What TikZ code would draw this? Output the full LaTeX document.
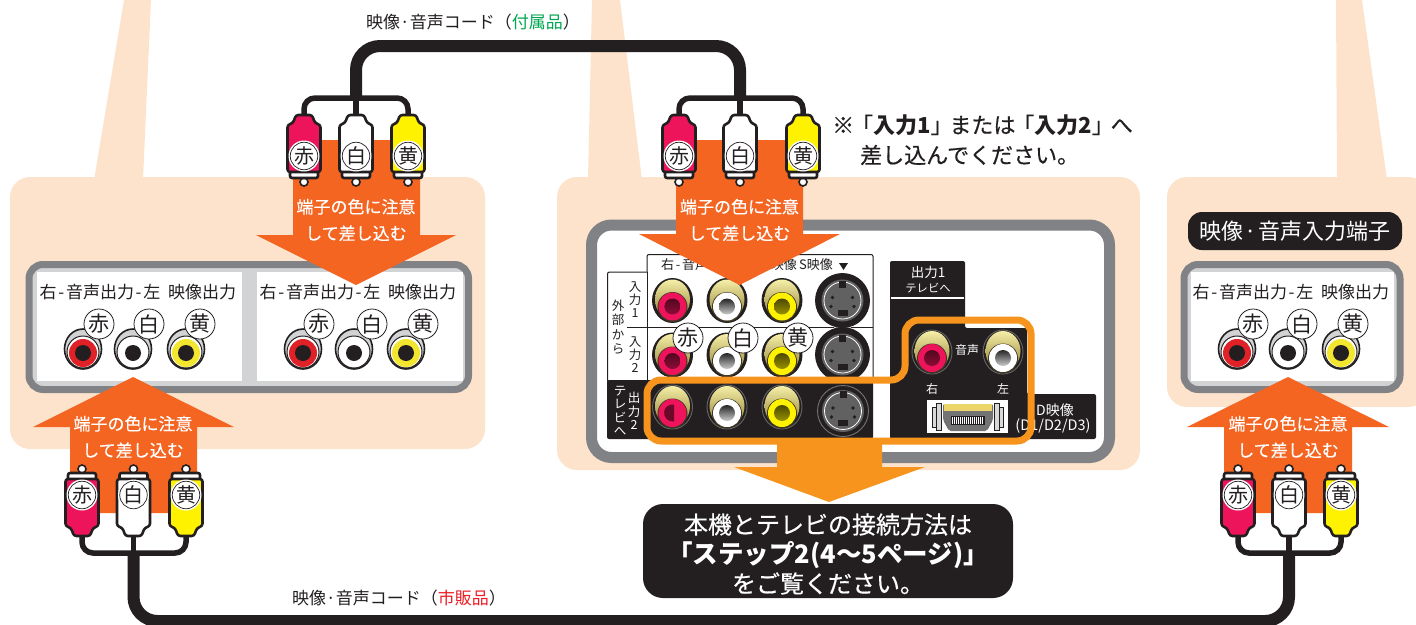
\documentclass[tikz,border=0pt]{standalone}
\usepackage{fontspec}
\setmainfont{Noto Sans CJK JP}
\newfontfamily\jpm[FakeBold=0.45]{Noto Sans CJK JP}
\definecolor{peach}{HTML}{FDE3CB}
\definecolor{ink}{HTML}{231F20}
\definecolor{frameg}{HTML}{808285}
\definecolor{paneg}{HTML}{D1D3D4}
\definecolor{arrowo}{HTML}{F46522}
\definecolor{framo}{HTML}{F7941D}
\definecolor{plugr}{HTML}{ED145B}
\definecolor{plugy}{HTML}{FFF200}
\definecolor{jackr}{HTML}{E02127}
\definecolor{jacky}{HTML}{F2E62E}
\definecolor{greenx}{HTML}{00A651}
\definecolor{redx}{HTML}{ED1C24}
\definecolor{goldt}{HTML}{F6EFA8}
\definecolor{goldb}{HTML}{8C7A2C}
\newcommand{\fs}[2]{\fontsize{#1}{#2}\selectfont}
\newcommand{\bb}[1]{{\normalfont\bfseries #1}}
\newcommand{\hy}{\kern1.7pt-\kern1.7pt}
\newcommand{\tb}{\kern-.14em}
\tikzset{
  cable/.style={draw=ink,line width=12pt,rounded corners=24pt},
  stem/.style={draw=ink,line width=5.5pt,rounded corners=11pt},
  txt/.style={inner sep=0pt,text=ink,align=center},
  wtxt/.style={inner sep=0pt,text=white,align=center},
  tag/.style={circle,draw=ink,line width=.8pt,fill=white,minimum size=30pt,inner sep=0pt,text=ink,font=\fs{21}{21}},
  plugtag/.style={circle,draw=ink,line width=.7pt,fill=white,minimum size=27.5pt,inner sep=0pt,text=ink,font=\fs{20}{20},outer sep=0pt},
  gframe/.style={draw=frameg,line width=7pt,fill=paneg,rounded corners=14pt},
  peachbox/.style={fill=peach,rounded corners=20pt},
  arr/.style={fill=arrowo},
  arrtxt/.style={wtxt,font=\jpm\fs{17}{26.5}},
  paneltxt/.style={txt,font=\fs{17}{18}},
}
% name x y colour label ysign
\newcommand{\plug}[6]{%
\begin{scope}[shift={(#2,#3)},yscale=#6]
  \draw[ink,line width=1.6pt,fill=white] (0,26) circle[radius=4];
  \draw[ink,line width=2.6pt,fill=white,line join=round,rounded corners=2pt] (-14,14) -- (14,14) -- (14,22) -- (-14,22) -- cycle;
  \draw[ink,line width=2.6pt,fill=#4,line join=round,rounded corners=2.5pt]
    (-8,-41) -- (8,-41) -- (11,-33) -- (16.5,-31) -- (16.5,16) -- (-16.5,16) -- (-16.5,-31) -- (-11,-33) -- cycle;
  \coordinate (#1-tip) at (0,-41);
  \fill[white] (0,0) circle[radius=15.5];
\end{scope}
\node[plugtag] (#1) at (#2,#3) {#5};}
% x y colour
\newcommand{\paneljack}[3]{%
\begin{scope}[shift={(#1,#2)}]
  \draw[ink,line width=1.6pt,fill=paneg] (0,0) ellipse[x radius=18.5,y radius=20];
  \draw[ink,line width=1pt,fill=white] (0,3) circle[radius=16];
  \fill[#3] (0,4) circle[radius=14];
  \fill[ink] (0,4) circle[radius=8];
\end{scope}}
% x y ring colour holetop holebottom
\newcommand{\goldjack}[6]{%
\begin{scope}[shift={(#1,#2)}]
  \draw[#3,fill=ink,line width=.9pt] (0,0) ellipse[x radius=20,y radius=22];
  \shade[top color=goldt,bottom color=goldb] (0,-1) ellipse[x radius=17.5,y radius=20];
  \fill[ink!75!goldb] (0,6.5) circle[radius=15];
  \fill[#4] (0,6) circle[radius=14];
  \shade[top color=#5,bottom color=#6] (0,6) circle[radius=8];
\end{scope}}
% x y radius ringcolour
\newcommand{\sjack}[4]{%
\begin{scope}[shift={(#1,#2)}]
  \draw[#4,line width=.9pt,fill=ink] (0,0) circle[radius=#3];
  \fill[black!62] (0,0) circle[radius=21];
  \draw[white,line width=.8pt] (0,0) circle[radius=18.5];
  \fill[ink] (-3.5,-20) rectangle (3.5,-13);
  \fill[ink] (-5,9) rectangle (5,15);
  \foreach \a/\b in {-10/-3,10/-3,-11.5/6,11.5/6}{\fill[ink] (\a,\b) circle[radius=1.8];}
\end{scope}}
\begin{document}
\begin{tikzpicture}[x=1pt,y=-1pt,line cap=butt]
\useasboundingbox (0,0) rectangle (1416,624);
% peach
\fill[peach] (124,0) -- (151,0) -- (143,180) -- (94,180) -- cycle;
\fill[peach] (592,0) -- (620,0) -- (642,180) -- (588,180) -- cycle;
\fill[peach] (1336,0) -- (1362,0) -- (1387,180) -- (1337,180) -- cycle;
\path[peachbox] (10,177) rectangle (485,449);
\path[peachbox] (557,177) rectangle (1140,470);
\path[peachbox] (1167,177) rectangle (1428,407);
% left and right panels
\path[gframe] (29,264.5) rectangle (468.5,389.5);
\fill[white] (37,272) rectangle (242,381);
\fill[white] (257,272) rectangle (463,381);
\path[gframe] (1184,264.5) rectangle (1400,389.5);
\fill[white] (1191,272) rectangle (1394,381);
\foreach \dx in {0,220}{
  \node[paneltxt] at (100+\dx,292) {右\hy 音声出力\hy 左};
  \node[paneltxt] at (202+\dx,292) {映像出力};
}
\node[paneltxt] (rt1) at (1253,292) {右\hy 音声出力\hy 左};
\node[paneltxt] (rt2) at (1355,292) {映像出力};
\foreach \x/\c in {83/jackr,133/white,186/jacky,303/jackr,354/white,406/jacky,1237/jackr,1288/white,1341/jacky}{\paneljack{\x}{349}{\c}}
\foreach \n/\x/\t in {la/99/赤,lb/149/白,lc/200/黄,ld/319/赤,le/372/白,lf/423/黄,lg/1253/赤,lh/1302/白,li/1353/黄}{\node[tag] (\n) at (\x,324) {\t};}
% right title
\fill[ink] (1188,212) [rounded corners=14pt] rectangle (1402,250);
\node[wtxt,font=\fs{22}{23}] (rtitle) at (1295,231) {映像\kern1pt·\kern1pt音声入力端子};
% centre panel
\draw[frameg,line width=11pt,fill=white,rounded corners=20pt] (591.5,225) rectangle (1109.5,457.5);
\draw[ink,line width=1pt,fill=white,rounded corners=2pt] (647,382) -- (647,254.5) -- (873,254.5) -- (873,382);
\draw[ink,line width=1pt,fill=white,rounded corners=2pt] (647,272) -- (607.5,272) -- (607.5,382) -- (647,382);
\fill[ink,rounded corners=2pt] (607,380) rectangle (873,439);
\draw[ink,line width=1pt] (627,327) -- (873,327);
\draw[ink,line width=1pt] (647,272) -- (647,382);
\node[txt,font=\fs{13}{14.5}] (t1) at (695,265) {右\hy 音声\hy 左};
\node[txt,font=\fs{13}{14},anchor=east] (t2) at (797,265) {映像};
\node[txt,font=\fs{13}{14}] (t3) at (816,265) {S映像};
\fill[ink] (839,263) -- (848,263) -- (843.5,270) -- cycle;
\node[txt,font=\fs{12.5}{14.5}] (t4) at (618,327) {外\\部\\か\\ら};
\node[txt,font=\fs{12.5}{13}] (t5) at (635,300) {入\\力\\1};
\node[txt,font=\fs{12.5}{13}] (t6) at (635,355) {入\\力\\2};
\node[wtxt,font=\fs{12.5}{13.5}] (t7) at (620,411) {テ\\レ\\ビ\\へ};
\node[wtxt,font=\fs{12.5}{13.5}] (t8) at (634,411) {出\\力\\2};
% S jacks
\fill[paneg] (834,320) rectangle (851,336);
\sjack{842.5}{300.5}{27}{ink}
\sjack{842.5}{354.5}{27}{ink}
\foreach \x/\c/\p/\q in {672.5/plugr/plugr!35!black/plugr!60!black,727/white/black!85/black!20,782/plugy/plugy!30!black/plugy!60!black}{
  \goldjack{\x}{300.5}{ink}{\c}{\p}{\q}
  \goldjack{\x}{355}{ink}{\c}{\p}{\q}
  \goldjack{\x}{407}{black!60}{\c}{\p}{\q}
}
\sjack{843}{411}{25.5}{black!55}
\fill[plugr] (672.5,413) circle[radius=8.5];
\fill[plugr!45!black] (674,404.6) arc[start angle=280,end angle=80,radius=8.5] -- cycle;
\foreach \n/\x/\t in {ca/688/赤,cb/743/白,cc/798/黄}{\node[tag] (\n) at (\x,338) {\t};}
% output 1
\fill[ink,rounded corners=2pt] (890,261) -- (965,261) -- (965,328) -- (1027,328) -- (1027,394) -- (1096,394) -- (1096,439) -- (890,439) -- cycle;
\draw[white,line width=1.2pt] (891,298) -- (964,298);
\node[wtxt,font=\fs{13.5}{15}] (o1) at (928,272) {出力1};
\node[wtxt,font=\fs{11.3}{12}] (o2) at (928,288) {テレビへ};
\node[wtxt,font=\fs{12}{13}] (o3) at (967,349.5) {音声};
\node[wtxt,font=\fs{12}{13}] (o4) at (932,389) {右};
\node[wtxt,font=\fs{12}{13}] (o5) at (1003,389) {左};
\goldjack{932}{352}{black!60}{plugr}{plugr!35!black}{plugr!60!black}
\goldjack{1003}{352}{black!60}{white}{black!85}{black!20}
\fill[white] (927,400) rectangle (1008,433);
\fill[black!55,rounded corners=2pt] (943,404) -- (993,404) -- (993,420) -- (987,431) -- (949,431) -- (943,420) -- cycle;
\fill[yellow!55!brown!70!white] (944,404) rectangle (992,411);
\fill[ink] (951,416) rectangle (985,425);
\foreach \i in {0,...,15}{\draw[white,line width=.5pt] (952.5+2*\i,417) -- (952.5+2*\i,424);}
\foreach \s/\x in {1/932,-1/1003}{
  \draw[ink,line width=.9pt,fill=black!15] (\x,407) rectangle ++(\s*4,20);
  \draw[ink,line width=.9pt,fill=black!15] (\x+\s*4,403) rectangle ++(\s*5,27);
}
\node[wtxt,font=\fs{14}{15}] (o6) at (1055,410) {D映像};
\node[wtxt,font=\fs{14.5}{15}] (o7) at (1053,425.5) {(D1/D2/D3)};
% orange frame and arrow
\draw[framo,line width=7pt,rounded corners=14pt] (647,410) -- (647,380) -- (905,380) -- (905,320) -- (1031,320) -- (1031,441) -- (647,441) -- cycle;
\fill[framo] (777,444) -- (882,444) -- (882,467) -- (925,467) -- (829,502) -- (734,467) -- (777,467) -- cycle;
% message
\fill[ink] (643,504) [rounded corners=20pt] rectangle (1013,598);
\node[wtxt,font=\jpm\fs{24}{29.5}] (msg) at (828,554) {本機とテレビの接続方法は\\{\fs{25.5}{29.5}\bb{「ステップ2(4〜5ページ)」}}\\をご覧ください。};
% orange arrows
\path[arr] (293,140) -- (420,140) -- (420,235) -- (456,235) -- (356,285) -- (256,235) -- (293,235) -- cycle;
\path[arr] (676,140) -- (803,140) -- (803,234) -- (840,234) -- (739.5,285) -- (639,234) -- (676,234) -- cycle;
\path[arr] (70,513) -- (197,513) -- (197,427) -- (234,427) -- (133,377) -- (33,427) -- (70,427) -- cycle;
\path[arr] (1224,513) -- (1352,513) -- (1352,427) -- (1389,427) -- (1288,377) -- (1187,427) -- (1224,427) -- cycle;
\node[arrtxt] (a1) at (356,220) {端子の色に注意\\して差し込む};
\node[arrtxt] (a2) at (739.5,220) {端子の色に注意\\して差し込む};
\node[arrtxt] (a3) at (133,437) {端子の色に注意\\して差し込む};
\node[arrtxt] (a4) at (1288,437) {端子の色に注意\\して差し込む};
% plugs
\plug{tla}{304}{156}{plugr}{赤}{1}
\plug{tlb}{356}{156}{white}{白}{1}
\plug{tlc}{408}{156}{plugy}{黄}{1}
\plug{tra}{679}{156}{plugr}{赤}{1}
\plug{trb}{740}{156}{white}{白}{1}
\plug{trc}{803}{156}{plugy}{黄}{1}
\plug{bla}{82}{495}{plugr}{赤}{-1}
\plug{blb}{133.5}{495}{white}{白}{-1}
\plug{blc}{186}{495}{plugy}{黄}{-1}
\plug{bra}{1238}{495}{plugr}{赤}{-1}
\plug{brb}{1289}{495}{white}{白}{-1}
\plug{brc}{1341}{495}{plugy}{黄}{-1}
% cables
\coordinate (tlbus) at (356,98);
\coordinate (trbus) at (740,98);
\coordinate (blbus) at (133.5,553);
\coordinate (brbus) at (1289,553);
\coordinate (topmid) at (548,46);
\coordinate (botmid) at (700,621);
\draw[stem] (tla-tip) |- (tlbus) -| (tlc-tip);
\draw[stem] (tra-tip) |- (trbus) -| (trc-tip);
\draw[stem] (bla-tip) |- (blbus) -| (blc-tip);
\draw[stem] (bra-tip) |- (brbus) -| (brc-tip);
\draw[stem] (tlb-tip) -- (tlbus);
\draw[stem] (trb-tip) -- (trbus);
\draw[stem] (blb-tip) -- (blbus);
\draw[stem] (brb-tip) -- (brbus);
\draw[cable] (tlbus) |- (topmid) -| (trbus);
\draw[cable] (blbus) |- (botmid) -| (brbus);
% cable labels
\node[txt,font=\fs{17}{18}] (c1) at (473,22) {映像·音声コード（\textcolor{greenx}{付属品}）};
\node[txt,font=\fs{17}{18}] (c2) at (399,598) {映像·音声コード（\textcolor{redx}{市販品}）};
% note
\node[txt,font=\jpm\fs{22}{30},anchor=west] (n1) at (832,125) {※\tb「\bb{入力1}」\tb または\tb「\bb{入力2}」\tb へ};
\node[txt,font=\jpm\fs{22}{30},anchor=west] (n2) at (860,155) {差し込んでください。};
\end{tikzpicture}
\end{document}
